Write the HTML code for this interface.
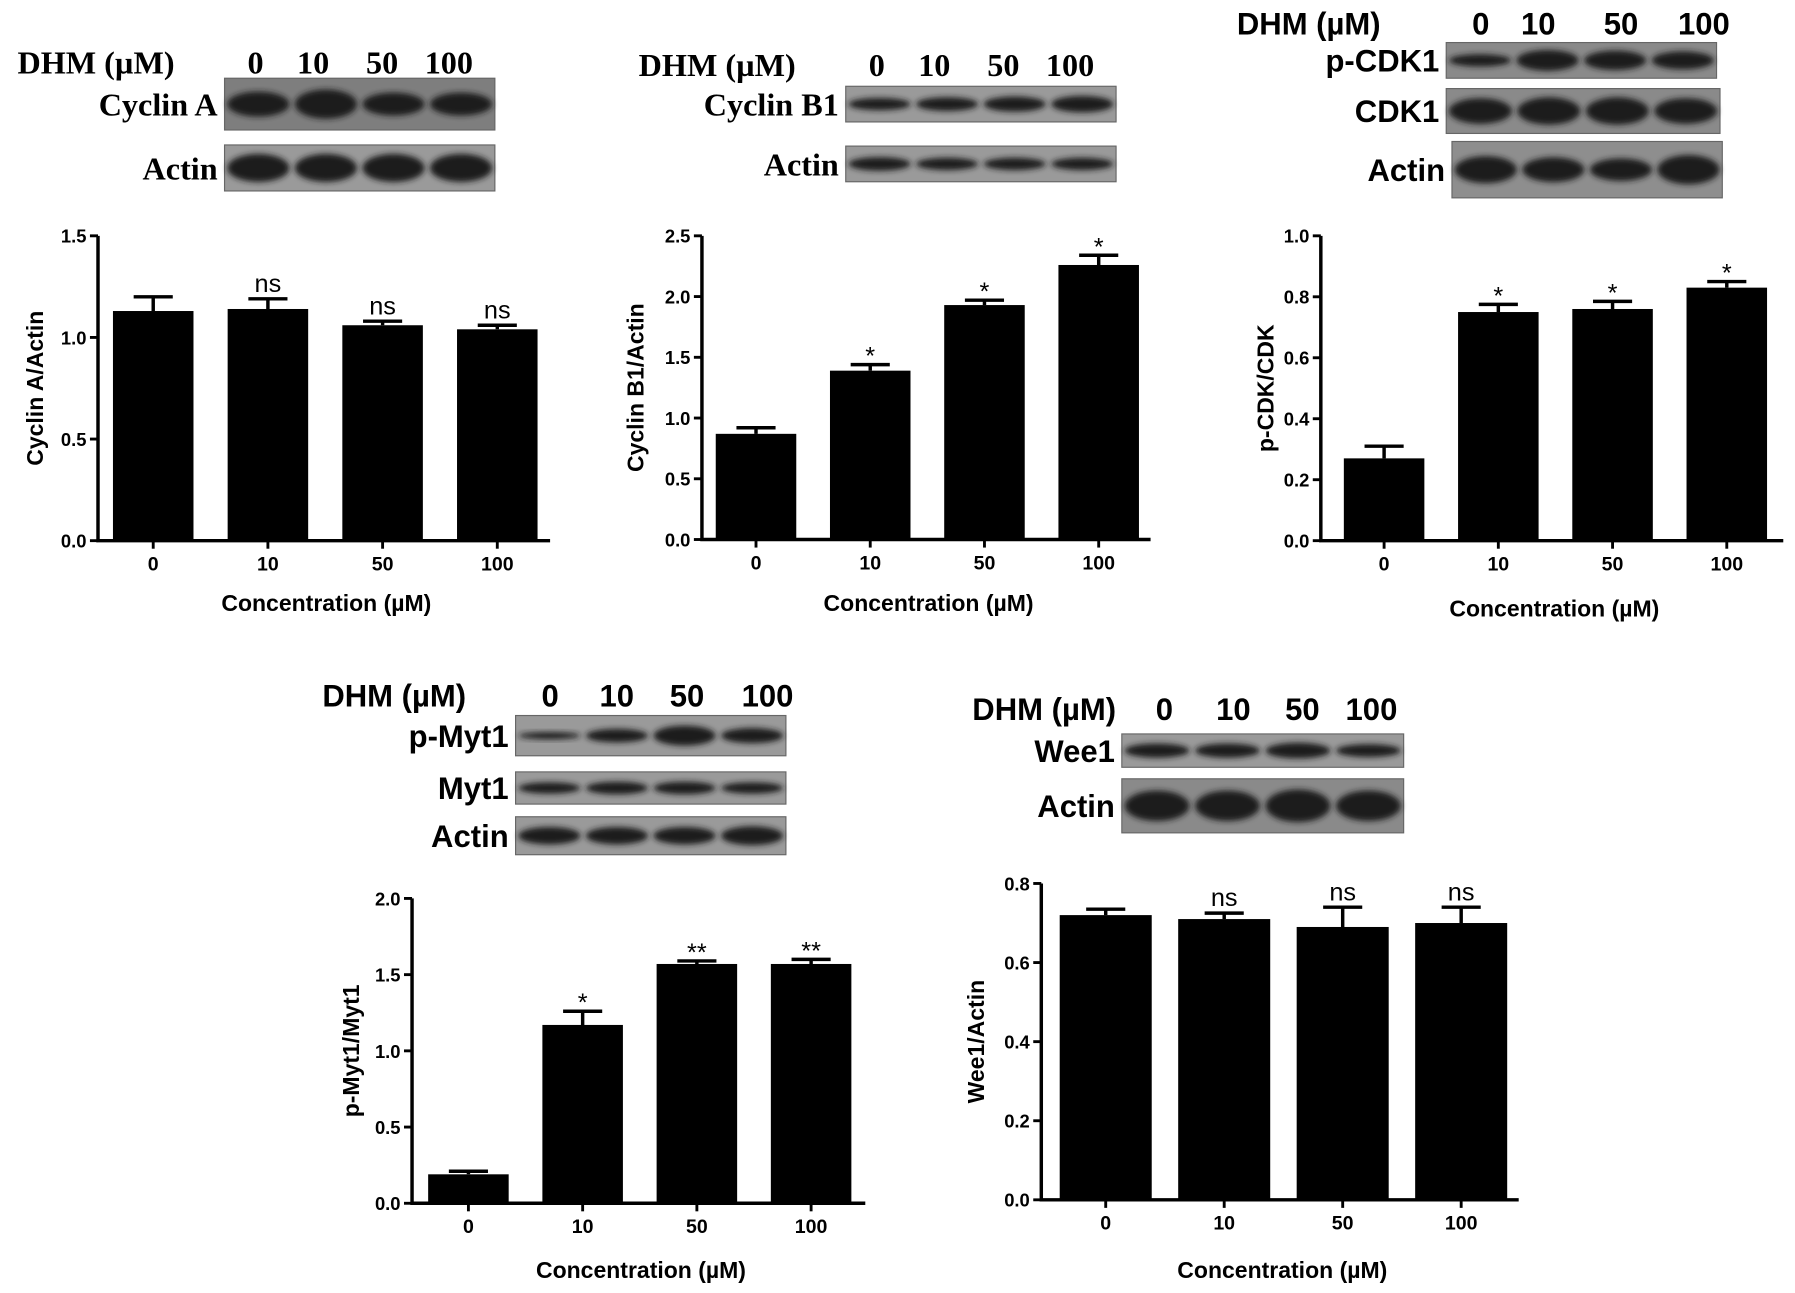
<!DOCTYPE html>
<html><head><meta charset="utf-8">
<style>
html,body{margin:0;padding:0;background:#fff;}
svg{display:block;}
.sans{font-family:"Liberation Sans",Arial,sans-serif;font-weight:bold;}
.serif{font-family:"Liberation Serif","Times New Roman",serif;font-weight:bold;}
</style></head>
<body>
<svg id="fig" width="1795" height="1293" viewBox="0 0 1560 1124" xmlns="http://www.w3.org/2000/svg">
<defs>
<filter id="blur" x="-20%" y="-50%" width="140%" height="200%"><feGaussianBlur stdDeviation="2.5"/></filter>
</defs>
</svg>
<script>
// ---------- data ----------
const categories = ["0", "10", "50", "100"];
const cyclinAValues = [1.13, 1.14, 1.06, 1.04];
const cyclinAErrors = [0.07, 0.05, 0.02, 0.02];
const cyclinASig = ["", "ns", "ns", "ns"];
const cyclinATicks = ["0.0", "0.5", "1.0", "1.5"];

const cyclinB1Values = [0.87, 1.39, 1.93, 2.26];
const cyclinB1Errors = [0.05, 0.05, 0.04, 0.08];
const cyclinB1Sig = ["", "*", "*", "*"];
const cyclinB1Ticks = ["0.0", "0.5", "1.0", "1.5", "2.0", "2.5"];

const pcdkValues = [0.27, 0.75, 0.76, 0.83];
const pcdkErrors = [0.04, 0.025, 0.025, 0.02];
const pcdkSig = ["", "*", "*", "*"];
const pcdkTicks = ["0.0", "0.2", "0.4", "0.6", "0.8", "1.0"];

const pmytValues = [0.19, 1.17, 1.57, 1.57];
const pmytErrors = [0.02, 0.09, 0.02, 0.03];
const pmytSig = ["", "*", "**", "**"];
const pmytTicks = ["0.0", "0.5", "1.0", "1.5", "2.0"];

const wee1Values = [0.72, 0.71, 0.69, 0.70];
const wee1Errors = [0.015, 0.015, 0.05, 0.04];
const wee1Sig = ["", "ns", "ns", "ns"];
const wee1Ticks = ["0.0", "0.2", "0.4", "0.6", "0.8"];

// ---------- helpers ----------
const NS = "http://www.w3.org/2000/svg";
const svg = document.getElementById("fig");
function mk(tag, attrs, parent) {
  const e = document.createElementNS(NS, tag);
  for (const k in attrs) e.setAttribute(k, attrs[k]);
  (parent || svg).appendChild(e);
  return e;
}

function drawChart(id, layout, values, errors, sig, ticks, yTitle) {
  const g = mk("g", {});
  
  
  const maxV = parseFloat(ticks[ticks.length - 1]);
  const y = v => layout.y0 - (v / maxV) * (layout.y0 - layout.yTop);
  const x = i => layout.xc0 + i * layout.step;
  values.forEach((v, i) => {
    const b = mk("rect", {x: x(i) - layout.bw / 2, y: y(v), width: layout.bw, height: layout.y0 - y(v), fill: "#000"}, g);
    
    
    const e = mk("path", {d: `M${x(i)} ${y(v)} V${y(v + errors[i])} M${x(i) - 17} ${y(v + errors[i])} H${x(i) + 17}`, stroke: "#000", "stroke-width": 3, fill: "none"}, g);
    
    
    if (sig[i]) {
      const star = sig[i].startsWith("*");
      const s = mk("text", {x: x(i), y: y(v + errors[i]) - (star ? 0 : 6), "text-anchor": "middle", "font-size": star ? 22 : 22, "font-family": "Liberation Sans, Arial, sans-serif"}, g);
      s.textContent = sig[i];
      
      
    }
    const t = mk("text", {x: x(i), y: layout.y0 + 26, "text-anchor": "middle", "font-size": 17, class: "sans"}, g);
    t.textContent = categories[i];
    
    
    const tk = mk("line", {x1: x(i), x2: x(i), y1: layout.y0, y2: layout.y0 + 7, stroke: "#000", "stroke-width": 2.5}, g);
    
    
  });
  const ax = mk("path", {d: `M${layout.ax} ${layout.yTop} V${layout.y0} H${layout.xEnd}`, stroke: "#000", "stroke-width": 3, fill: "none"}, g);
  
  
  ticks.forEach(tv => {
    const v = parseFloat(tv);
    const l = mk("line", {x1: layout.ax - 7, x2: layout.ax, y1: y(v), y2: y(v), stroke: "#000", "stroke-width": 2.5}, g);
    
    
    const t = mk("text", {x: layout.ax - 10, y: y(v) + 6, "text-anchor": "end", "font-size": 16, class: "sans"}, g);
    t.textContent = tv;
    
    
  });
  const yt = mk("text", {x: 0, y: 0, transform: `translate(${layout.ytx},${(layout.y0 + layout.yTop) / 2}) rotate(-90)`, "text-anchor": "middle", "font-size": 20, class: "sans"}, g);
  yt.textContent = yTitle;
  
  
  const xt = mk("text", {x: (layout.ax + layout.xEnd) / 2 + 2, y: layout.xty, "text-anchor": "middle", "font-size": 20, class: "sans"}, g);
  xt.textContent = "Concentration (\u00b5M)";
  
  
}

function drawBlot(id, cls, header, lanes, rows) {
  const g = mk("g", {});
  
  
  const h = mk("text", {x: header.x, y: header.y, "font-size": header.fs, class: cls}, g);
  h.textContent = "DHM (\u00b5M)";
  
  
  categories.forEach((c, i) => {
    const t = mk("text", {x: lanes[i], y: header.y, "text-anchor": "middle", "font-size": header.fs, class: cls}, g);
    t.textContent = c;
    
    
  });
  rows.forEach(r => {
    const bx = mk("rect", {x: r.x, y: r.y, width: r.w, height: r.h, fill: r.bg || "#8c8c8c", stroke: "#666", "stroke-width": 1}, g);
    
    
    const lw = r.w / 4;
    r.band.forEach((s, i) => {
      const el = mk("ellipse", {cx: r.x + lw * (i + 0.5), cy: r.y + r.h / 2, rx: lw * 0.46, ry: Math.min(r.h * 0.2 * s + 1, r.h * 0.36), fill: "#1a1a1a", filter: "url(#blur)"}, g);
      
      
    });
    const t = mk("text", {x: r.x - 6, y: r.y + r.h / 2 + header.fs * 0.36, "text-anchor": "end", "font-size": header.fs, class: cls}, g);
    t.textContent = r.label;
    
    
  });
}

// ---------- blots ----------
drawBlot("cyclin-a", "serif", {x: 15, y: 64, fs: 28}, [222, 272, 332, 390], [
  {label: "Cyclin A", x: 195, y: 68, w: 235, h: 45, band: [1.1, 1.3, 1.0, 1.0], bg: "#7e7e7e"},
  {label: "Actin", x: 195, y: 126, w: 235, h: 40, band: [1.4, 1.4, 1.4, 1.4], bg: "#9a9a9a"}
]);
drawBlot("cyclin-b1", "serif", {x: 555, y: 66, fs: 28}, [762, 812, 872, 930], [
  {label: "Cyclin B1", x: 735, y: 75, w: 235, h: 31, band: [0.7, 0.8, 0.9, 1.0], bg: "#9a9a9a"},
  {label: "Actin", x: 735, y: 127, w: 235, h: 31, band: [0.8, 0.7, 0.7, 0.7], bg: "#9a9a9a"}
]);
drawBlot("cdk1", "sans", {x: 1075, y: 30, fs: 27}, [1287, 1337, 1409, 1481], [
  {label: "p-CDK1", x: 1257, y: 37, w: 235, h: 31, band: [0.7, 1.3, 1.2, 1.1], bg: "#8a8a8a"},
  {label: "CDK1", x: 1257, y: 77, w: 238, h: 39, band: [1.3, 1.4, 1.4, 1.3], bg: "#8a8a8a"},
  {label: "Actin", x: 1262, y: 123, w: 235, h: 49, band: [1.1, 1.0, 0.9, 1.2], bg: "#8e8e8e"}
]);
drawBlot("myt1", "sans", {x: 280, y: 614, fs: 27}, [478, 536, 597, 667], [
  {label: "p-Myt1", x: 448, y: 622, w: 235, h: 35, band: [0.3, 0.7, 1.1, 0.8], bg: "#9a9a9a"},
  {label: "Myt1", x: 448, y: 671, w: 235, h: 28, band: [0.7, 0.8, 0.8, 0.7], bg: "#9a9a9a"},
  {label: "Actin", x: 448, y: 710, w: 235, h: 33, band: [1.0, 1.0, 1.0, 1.1], bg: "#9a9a9a"}
]);
drawBlot("wee1", "sans", {x: 845, y: 626, fs: 27}, [1012, 1072, 1132, 1192], [
  {label: "Wee1", x: 975, y: 638, w: 245, h: 29, band: [0.9, 0.9, 1.0, 0.8], bg: "#9a9a9a"},
  {label: "Actin", x: 975, y: 677, w: 245, h: 47, band: [1.3, 1.3, 1.4, 1.3], bg: "#8a8a8a"}
]);

// ---------- charts ----------
drawChart("cyclin-a", {ax: 85, yTop: 205, y0: 470, xEnd: 478, xc0: 133, step: 99.7, bw: 70, ytx: 37, xty: 531}, cyclinAValues, cyclinAErrors, cyclinASig, cyclinATicks, "Cyclin A/Actin");
drawChart("cyclin-b1", {ax: 610, yTop: 205, y0: 469, xEnd: 1000, xc0: 657, step: 99.3, bw: 70, ytx: 559, xty: 531}, cyclinB1Values, cyclinB1Errors, cyclinB1Sig, cyclinB1Ticks, "Cyclin B1/Actin");
drawChart("p-cdk", {ax: 1148, yTop: 205, y0: 470, xEnd: 1550, xc0: 1203, step: 99.3, bw: 70, ytx: 1107, xty: 536}, pcdkValues, pcdkErrors, pcdkSig, pcdkTicks, "p-CDK/CDK");
drawChart("p-myt1", {ax: 358, yTop: 781, y0: 1046, xEnd: 752, xc0: 407, step: 99.3, bw: 70, ytx: 312, xty: 1111}, pmytValues, pmytErrors, pmytSig, pmytTicks, "p-Myt1/Myt1");
drawChart("wee1", {ax: 905, yTop: 768, y0: 1043, xEnd: 1320, xc0: 961, step: 103, bw: 80, ytx: 855, xty: 1111}, wee1Values, wee1Errors, wee1Sig, wee1Ticks, "Wee1/Actin");
</script>
</body></html>
